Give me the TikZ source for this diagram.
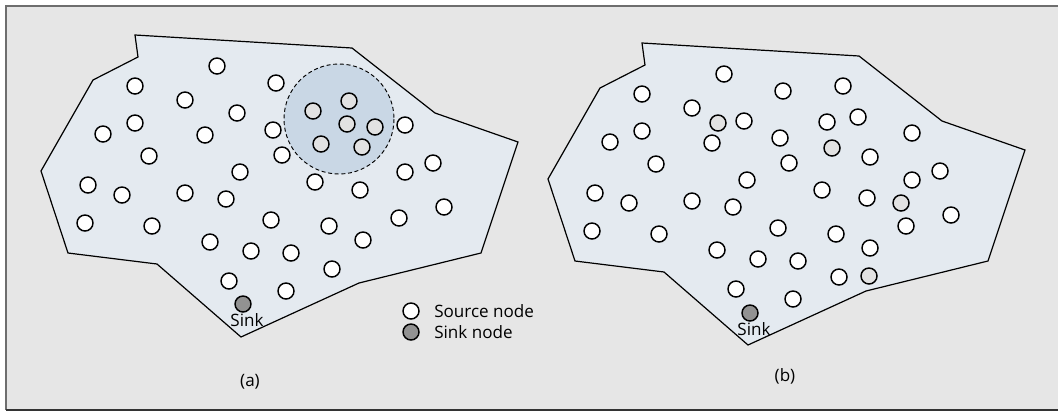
\documentclass[tikz,border=0pt]{standalone}
\usepackage{fontspec}
\setmainfont{Open Sans}
\definecolor{panelbg}{HTML}{E6E6E6}
\definecolor{framegray}{HTML}{6E6E6E}
\definecolor{fieldfill}{HTML}{E4EAF0}
\definecolor{rangefill}{HTML}{C9D7E5}
\definecolor{movedfill}{HTML}{E2E2E2}
\definecolor{sinkfill}{HTML}{929292}
\tikzset{
  srcnode/.style={circle, draw, line width=1.1pt, fill=white, minimum size=12pt, inner sep=0pt},
  movednode/.style={srcnode, fill=movedfill},
  sinknode/.style={srcnode, fill=sinkfill},
  sensorfield/.style={draw, line width=0.9pt, fill=fieldfill, line join=miter},
  rangezone/.style={draw, densely dashed, line width=0.7pt, fill=rangefill},
  lbl/.style={font=\fontsize{12.8}{14}\selectfont, inner sep=0pt}
}
% white sensor positions shared by both panels
\newcommand{\srclist}{217/66, 135/86, 276/83, 185/100, 237/113, 135/123, 103/134, 205/135,
  273/130, 149/156, 282/155, 240/172, 405/125, 433/163, 405/172, 315/182, 360/190,
  88/185, 122/195, 185/193, 226/199, 85/223, 152/226, 271/220, 329/226, 399/218,
  444/207, 363/240, 210/242, 251/251, 291/253, 332/269, 229/281, 286/291}
\newcommand{\fieldpath}{(135,35) -- (138,57) -- (93,80) -- (41,171) -- (68,253) -- (157,264)
  -- (241,337) -- (359,283) -- (481,253) -- (518,142) -- (435,113) -- (352,48) -- cycle}
\begin{document}
\begin{tikzpicture}[x=0.75pt, y=-0.75pt]
  \useasboundingbox (0,0) rectangle (1058,412);
  % frame
  \fill[panelbg] (5,5) rectangle (1058,410);
  \draw[framegray, line width=1.5pt] (1058,5.5) -- (5.5,5.5) -- (5.5,410);
  \draw[black!80, line width=1.5pt] (5.5,410) -- (1058,410);

  % panel (a)
  \path[sensorfield] \fieldpath;
  \draw[rangezone] (339,119) circle [radius=55];
  \foreach \x/\y [count=\i] in \srclist
    \node[srcnode] (a\i) at (\x,\y) {};
  \foreach \x/\y [count=\i] in {313/111, 349/101, 347/124, 375/127, 321/144, 362/147}
    \node[movednode] (am\i) at (\x,\y) {};
  \node[sinknode] (asink) at (243,304) {};
  \node[lbl] (asinklbl) at (247,320) {Sink};
  \node[lbl] (acap) at (250,382) {(a)};

  % legend
  \node[srcnode] (legsrc) at (411,311) {};
  \node[lbl, anchor=west] (legsrctxt) at (434,311) {Source node};
  \node[sinknode] (legsink) at (411,332) {};
  \node[lbl, anchor=west] (legsinktxt) at (434,332) {Sink node};

  % panel (b)
  \begin{scope}[shift={(507,8)}]
    \path[sensorfield] \fieldpath;
    \foreach \x/\y [count=\i] in \srclist
      \node[srcnode] (b\i) at (\x,\y) {};
    \foreach \x/\y [count=\i] in {336/78, 320/114, 351/109, 363/149}
      \node[srcnode] (bn\i) at (\x,\y) {};
    \foreach \x/\y [count=\i] in {211/115, 325/140, 394/195, 362/268}
      \node[movednode] (bm\i) at (\x,\y) {};
    \node[sinknode] (bsink) at (243,305) {};
    \node[lbl] (bsinklbl) at (247,321) {Sink};
  \end{scope}
  \node[lbl] (bcap) at (785,376) {(b)};
\end{tikzpicture}
\end{document}
